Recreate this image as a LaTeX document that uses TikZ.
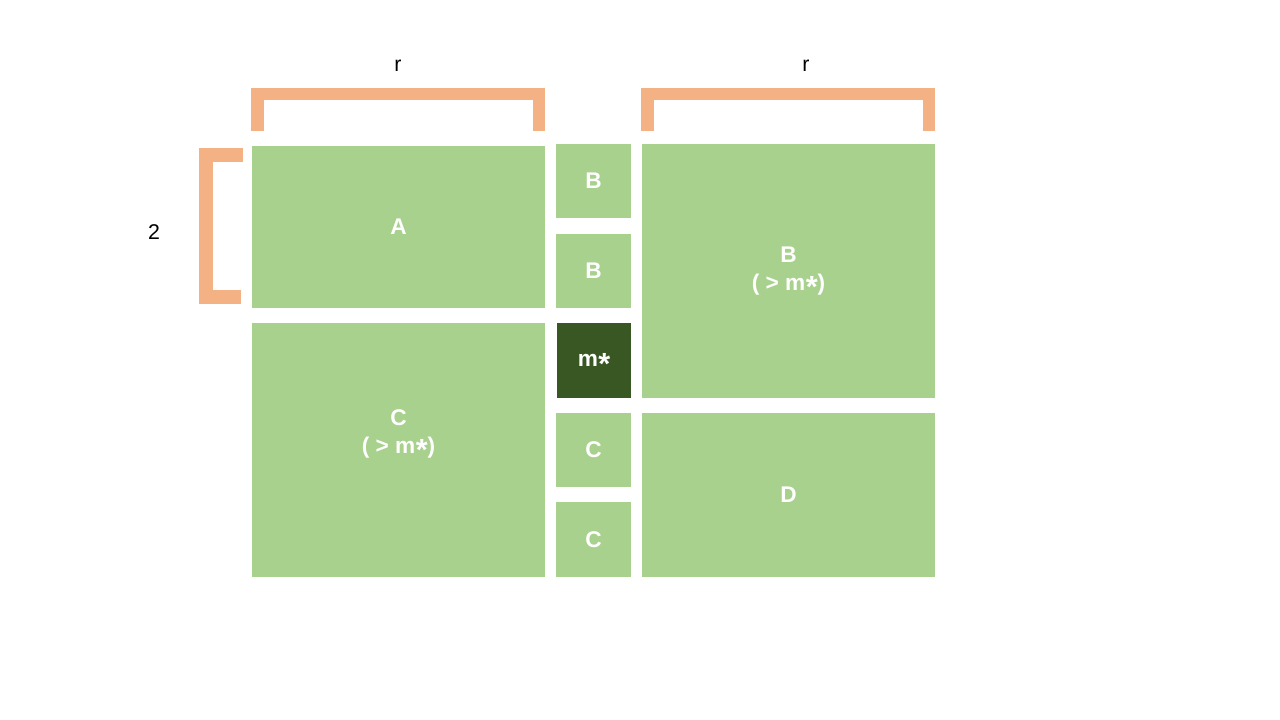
\documentclass[tikz,border=0pt]{standalone}
\usepackage{fontspec}
\setmainfont{Liberation Sans}
\newcommand{\mstar}{m\kern0.02em\smash{\raisebox{-0.34em}{\scalebox{1.35}{*}}}}
\definecolor{lgreen}{HTML}{A9D18E}
\definecolor{dgreen}{HTML}{385723}
\definecolor{brk}{HTML}{F4B183}
\tikzset{
  gbox/.style n args={2}{fill=lgreen, draw=none, inner sep=0pt, text=white,
     font=\fontsize{17}{20.5}\selectfont\bfseries, align=center,
     minimum width=#1*0.75pt, minimum height=#2*0.75pt},
  dbox/.style n args={2}{gbox={#1}{#2}, fill=dgreen},
  brack/.style={draw=brk, line width=12.5*0.75pt, line cap=butt, line join=miter},
  lbl/.style={font=\fontsize{16}{18}\selectfont, text=black, inner sep=0pt}
}
\begin{document}
\begin{tikzpicture}[x=0.75pt, y=-0.75pt]
\useasboundingbox (0,0) rectangle (1280,720);
\node[gbox={293}{162}] (A) at (398.5,227) {A};
\node[gbox={293}{254}] (Cb) at (398.5,450) {};
\node[text=white, font=\fontsize{17}{20.5}\selectfont\bfseries, align=center, inner sep=0pt] (Ct) at (398.5,434) {C\\( > \mstar)};
\node[gbox={75}{74}] (B1) at (593.5,181) {B};
\node[gbox={75}{74}] (B2) at (593.5,271) {B};
\node[dbox={74}{75}] (M) at (594,360.5) {\mstar};
\node[gbox={75}{74}] (C1) at (593.5,450) {C};
\node[gbox={75}{75}] (C2) at (593.5,539.5) {C};
\node[gbox={293}{254}] (Bb) at (788.5,271) {B\\( > \mstar)};
\node[gbox={293}{164}] (D) at (788.5,495) {D};
\draw[brack] (257.25,131) -- (257.25,94.25) -- (538.75,94.25) -- (538.75,131);
\draw[brack] (647.25,131) -- (647.25,94.25) -- (928.75,94.25) -- (928.75,131);
\draw[brack, line width=13.5*0.75pt] (243,155) -- (206,155) -- (206,297) -- (241,297);
\node[lbl] (r1) at (398,66) {r};
\node[lbl] (r2) at (806,66) {r};
\node[lbl] (n2) at (154,232) {2};
\end{tikzpicture}
\end{document}
